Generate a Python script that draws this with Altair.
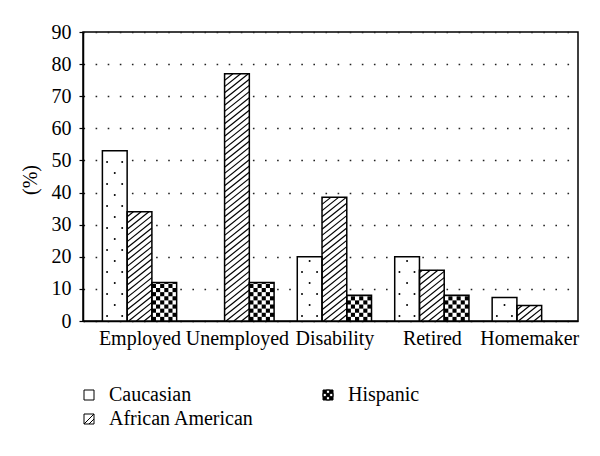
import json
import altair as alt
import pandas as pd

# ---------------- data ----------------
categories = ["Employed", "Unemployed", "Disability", "Retired", "Homemaker"]
groups = ["Caucasian", "African American", "Hispanic"]
caucasian = [53, 0, 20, 20, 7.3]
african_american = [34, 77, 38.5, 15.8, 4.8]
hispanic = [12, 12, 8, 8, 0]
y_ticks = [0, 10, 20, 30, 40, 50, 60, 70, 80, 90]

rows = []
for gi, (g, vals) in enumerate(zip(groups, [caucasian, african_american, hispanic])):
    for ci, (c, v) in enumerate(zip(categories, vals)):
        rows.append({"category": c, "ci": ci, "group": g, "gi": gi, "value": v})
df = pd.DataFrame(rows)

# ---------------- layout / style ----------------
FONT = "Liberation Serif, Times New Roman, Times, serif"
PLOT_W, PLOT_H = 495, 289
XMIN, XMAX = -0.58, 4.5
YMAX = 90
W = 0.254                      # bar width in category units
PX_X = PLOT_W / (XMAX - XMIN)  # px per x unit
PX_Y = PLOT_H / YMAX           # px per y unit

# hatch geometry (African American)
RISE = 0.8 * W * PX_X / PX_Y
STEP = 6.2 / PX_Y
# checker geometry (Hispanic)
NC = 6
CW = W / NC
CH = CW * PX_X / PX_Y
# dots (Caucasian)
DOT_STEP = 22 / PX_Y
DOT_A0 = 5 / PX_Y
DOT_B0 = 16 / PX_Y

xscale = alt.Scale(domain=[XMIN, XMAX], nice=False, zero=False)
yscale = alt.Scale(domain=[0, YMAX], nice=False, zero=True)

xaxis = alt.Axis(
    values=list(range(len(categories))),
    labelExpr=f"{json.dumps(categories)}[datum.value]",
    title=None, grid=False, ticks=False, tickSize=0,
    labelFont=FONT, labelFontSize=20, labelColor="black", labelPadding=7,
    labelFlush=False, labelOverlap=False,
    domainColor="black", domainWidth=1.5,
)
yaxis = alt.Axis(
    values=y_ticks, title="(%)",
    titleFont=FONT, titleFontSize=20, titleFontWeight="normal", titleColor="black",
    titleX=-53, titleY=PLOT_H / 2 + 3, titleAngle=270, titleAlign="center", titleBaseline="middle",
    labelFont=FONT, labelFontSize=20, labelColor="black", labelPadding=8,
    domainColor="black", domainWidth=1.5,
    tickColor="black", tickSize=4, tickWidth=1.2,
    grid=True, gridColor="#222", gridDash=[1.6, 10.5], gridWidth=1.6,
)


def X(f):
    return alt.X(f, type="quantitative", scale=xscale, axis=xaxis)


def Y(f):
    return alt.Y(f, type="quantitative", scale=yscale, axis=yaxis)


XL = f"datum.ci - 1.5 * {W} + datum.gi * {W}"

base = alt.Chart(df).transform_filter("datum.value > 0").transform_calculate(
    xl=XL, xr=f"datum.ci - 1.5 * {W} + datum.gi * {W} + {W}", zero="0"
)

# legend symbols (entries fill column by column: Caucasian, African American | Hispanic)
legend_order = groups
T = 1 / 3
AA_PATH = "M-1,-1H1V1H-1Z M-1,1L1,-1 M0,1L1,0"
holes = [(-T, -1, T, -T), (-1, -T, -T, T), (T, -T, 1, T), (-T, T, T, 1)]
HI_PATH = "M-1,-1H1V1H-1Z " + " ".join(
    f"M{x0:.3f},{y0:.3f}V{y1:.3f}H{x1:.3f}V{y0:.3f}Z" for x0, y0, x1, y1 in holes
)
shape_expr = (
    f"datum.value === {json.dumps(groups[1])} ? '{AA_PATH}' : "
    f"datum.value === {json.dumps(groups[2])} ? '{HI_PATH}' : 'M-1,-1H1V1H-1Z'"
)

legend = alt.Legend(
    title=None, orient="none", legendX=-4, legendY=353, columns=2,
    labelFont=FONT, labelFontSize=20, labelColor="black", labelLimit=400,
    symbolSize=100, symbolStrokeColor="black", symbolStrokeWidth=1,
    symbolType=alt.ExprRef(expr=shape_expr), symbolOpacity=1,
    labelOffset=10, columnPadding=64, rowPadding=4, padding=0,
)

bg = base.mark_rect(fill="white", strokeWidth=0).encode(
    x=X("xl"), x2="xr:Q", y=Y("value"), y2="zero:Q"
)

legend_layer = base.transform_filter("false").mark_rect(opacity=1).encode(
    x=X("xl"), x2="xr:Q", y=Y("value"), y2="zero:Q",
    fill=alt.Fill("group:N", scale=alt.Scale(domain=legend_order, range=["white", "white", "black"]), legend=legend),
)

hatch = (
    alt.Chart(df)
    .transform_filter(f"datum.group === {json.dumps(groups[1])} && datum.value > 0")
    .transform_calculate(xl=XL, b=f"sequence(-{RISE}, datum.value, {STEP})")
    .transform_flatten(["b"])
    .transform_calculate(ya="max(datum.b, 0)", yb=f"min(datum.b + {RISE}, datum.value)")
    .transform_filter("datum.yb > datum.ya")
    .transform_calculate(
        xa=f"datum.xl + (datum.ya - datum.b) / {RISE} * {W}",
        xb=f"datum.xl + (datum.yb - datum.b) / {RISE} * {W}",
    )
    .mark_rule(color="black", strokeWidth=1.2)
    .encode(x=X("xa"), x2="xb:Q", y=Y("ya"), y2="yb:Q")
)

checker = (
    alt.Chart(df)
    .transform_filter(f"datum.group === {json.dumps(groups[2])} && datum.value > 0")
    .transform_calculate(
        xl=XL, r=f"sequence(0, ceil(datum.value / {CH}))", c=f"sequence(0, {NC})"
    )
    .transform_flatten(["r"])
    .transform_flatten(["c"])
    .transform_calculate(
        ya=f"datum.r * {CH}", yb=f"min((datum.r + 1) * {CH}, datum.value)",
        xa=f"datum.xl + datum.c * {CW}", xb=f"datum.xl + (datum.c + 1) * {CW}",
    )
    .transform_filter("(datum.r + datum.c) % 2 === 0 && datum.yb > datum.ya")
    .mark_rect(color="black", strokeWidth=0)
    .encode(x=X("xa"), x2="xb:Q", y=Y("ya"), y2="yb:Q")
)

dots_a = (
    alt.Chart(df)
    .transform_filter(f"datum.group === {json.dumps(groups[0])} && datum.value > 0")
    .transform_calculate(
        xl=XL, yy=f"sequence({DOT_A0}, datum.value - 0.6, {DOT_STEP})", fx="[0.19, 0.8]"
    )
    .transform_flatten(["yy"])
    .transform_flatten(["fx"])
    .transform_calculate(xx=f"datum.xl + datum.fx * {W}")
    .mark_circle(color="black", size=4, opacity=1)
    .encode(x=X("xx"), y=Y("yy"))
)

dots_b = (
    alt.Chart(df)
    .transform_filter(f"datum.group === {json.dumps(groups[0])} && datum.value > 0")
    .transform_calculate(xl=XL, yy=f"sequence({DOT_B0}, datum.value - 0.6, {DOT_STEP})")
    .transform_flatten(["yy"])
    .transform_calculate(xx=f"datum.xl + 0.5 * {W}")
    .mark_circle(color="black", size=4, opacity=1)
    .encode(x=X("xx"), y=Y("yy"))
)

outline = base.mark_rect(fillOpacity=0, stroke="black", strokeWidth=1.5).encode(
    x=X("xl"), x2="xr:Q", y=Y("value"), y2="zero:Q"
)

chart = (
    alt.layer(bg, hatch, checker, dots_a, dots_b, outline, legend_layer)
    .properties(
        width=PLOT_W, height=PLOT_H,
        padding={"left": 75, "top": 24, "right": 14, "bottom": 120},
        autosize="none",
        background="white",
    )
    .configure_view(stroke="black", strokeWidth=1.5)
)

chart.save("out.html", embed_options={"renderer": "svg", "actions": False})
